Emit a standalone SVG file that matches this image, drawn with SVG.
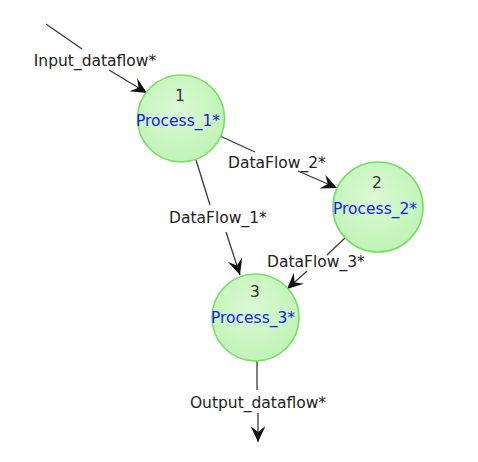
<svg xmlns="http://www.w3.org/2000/svg" width="478" height="462" viewBox="0 0 478 462">
<style>
.c{fill:url(#g);stroke:#74e064;stroke-width:1.6}
.l{stroke:#3a3a3a;stroke-width:1.3;fill:none}
.t{font-family:"DejaVu Sans",Verdana,sans-serif;font-size:15.5px;fill:#222;text-anchor:middle}
.n{font-family:"DejaVu Sans",Verdana,sans-serif;font-size:15.5px;fill:#333;text-anchor:middle}
.p{font-family:"DejaVu Sans",Verdana,sans-serif;font-size:15.5px;fill:#1a1aee;text-anchor:middle}
</style>
<defs>
<radialGradient id="g" cx="0.45" cy="0.4" r="0.65">
<stop offset="0" stop-color="#daf9d3"/>
<stop offset="1" stop-color="#bff3b4"/>
</radialGradient>
<marker id="a" markerUnits="userSpaceOnUse" viewBox="-17 -9 19 18" refX="0" refY="0" markerWidth="19" markerHeight="18" orient="auto">
<path d="M0,0 L-16,-7.5 L-10,0 L-16,7.5 Z" fill="#111"/>
</marker>
</defs>
<rect width="478" height="462" fill="#fff"/>
<g id="connectors">
<line class="l" x1="46" y1="24" x2="82" y2="49"/>
<line class="l" x1="109" y1="70" x2="147" y2="93" marker-end="url(#a)"/>
<line class="l" x1="220" y1="136" x2="255" y2="152"/>
<line class="l" x1="298" y1="171" x2="337" y2="188" marker-end="url(#a)"/>
<line class="l" x1="196" y1="160" x2="210" y2="205"/>
<line class="l" x1="226" y1="232" x2="240" y2="275" marker-end="url(#a)"/>
<line class="l" x1="346" y1="237" x2="327" y2="255"/>
<line class="l" x1="307" y1="271" x2="287" y2="289" marker-end="url(#a)"/>
<line class="l" x1="257" y1="361" x2="257" y2="390"/>
<line class="l" x1="258" y1="413" x2="258" y2="442" marker-end="url(#a)"/>
<text class="t" x="95" y="66">Input_dataflow*</text>
<text class="t" x="277" y="168">DataFlow_2*</text>
<text class="t" x="218" y="223">DataFlow_1*</text>
<text class="t" x="316" y="267">DataFlow_3*</text>
<text class="t" x="258" y="408">Output_dataflow*</text>
</g>
<g id="process1">
<circle class="c" cx="181" cy="118.5" r="43.5"/>
<text class="n" x="180" y="101">1</text>
<text class="p" x="178" y="126">Process_1*</text>
</g>
<g id="process2">
<circle class="c" cx="378" cy="207" r="45"/>
<text class="n" x="377" y="188">2</text>
<text class="p" x="375" y="214">Process_2*</text>
</g>
<g id="process3">
<circle class="c" cx="255.5" cy="317.5" r="43.5"/>
<text class="n" x="255" y="297">3</text>
<text class="p" x="253" y="323">Process_3*</text>
</g>
</svg>
